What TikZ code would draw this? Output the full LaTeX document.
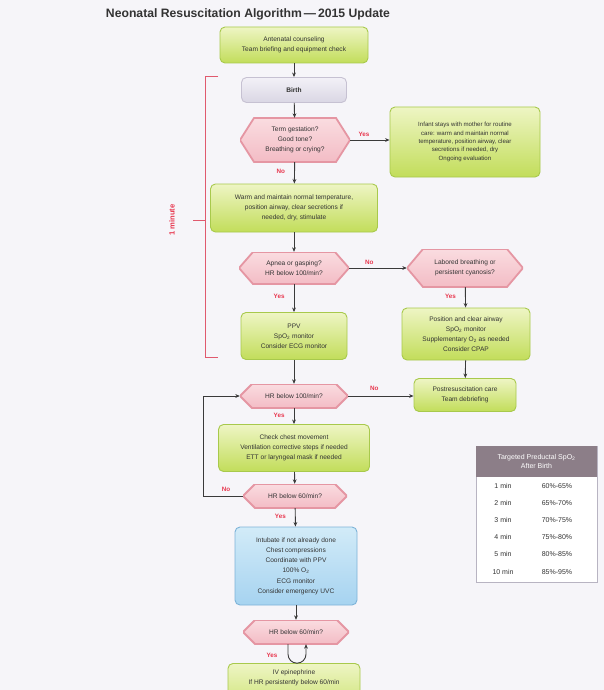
\documentclass[tikz,border=0pt]{standalone}
\usepackage{fontspec}
\setmainfont{Liberation Sans}
\usetikzlibrary{arrows.meta,calc}
\definecolor{bg}{HTML}{F6F5F9}
\definecolor{gtop}{HTML}{EEF5C4}
\definecolor{gbot}{HTML}{C2DD5A}
\definecolor{gline}{HTML}{A8C94C}
\definecolor{htop}{HTML}{FADCE0}
\definecolor{hbot}{HTML}{F3BCC5}
\definecolor{hline}{HTML}{E596A3}
\definecolor{btop}{HTML}{D2EBF8}
\definecolor{bbot}{HTML}{A6D3F0}
\definecolor{bline}{HTML}{7DB3D8}
\definecolor{ltop}{HTML}{F3F1F7}
\definecolor{lbot}{HTML}{DAD6E4}
\definecolor{lline}{HTML}{C6C1D2}
\definecolor{txt}{HTML}{333333}
\definecolor{lbl}{HTML}{E8384F}
\definecolor{brk}{HTML}{E05A6E}
\definecolor{thead}{HTML}{8C7E88}
\definecolor{arr}{HTML}{3A3A3A}
\newcommand{\bxfont}{\fontsize{6.6}{10.2}\selectfont}
\newcommand{\smfont}{\fontsize{6.1}{8.4}\selectfont}
\newcommand{\tbfont}{\fontsize{7}{9}\selectfont}
\newcommand{\lblfont}{\fontsize{6.3}{7}\selectfont\bfseries}
\tikzset{
  gbox/.style={rounded corners=5pt, draw=gline, line width=0.9pt, top color=gtop, bottom color=gbot, align=center, text=txt, font=\bxfont, inner sep=2pt},
  lbox/.style={rounded corners=5pt, draw=lline, line width=0.9pt, top color=ltop, bottom color=lbot, align=center, text=txt, font=\bxfont\bfseries},
  bbox/.style={rounded corners=5pt, draw=bline, line width=0.9pt, top color=btop, bottom color=bbot, align=center, text=txt, font=\bxfont},
  hexd/.store in=\hexd, hexd=12pt,
  hexa/.style={inner sep=1pt, align=center, text=txt, font=\bxfont, path picture={
    \path[top color=htop, bottom color=hbot, draw=hline, line width=1.8pt]
      (path picture bounding box.west)
      -- ([xshift=\hexd]path picture bounding box.north west)
      -- ([xshift=-\hexd]path picture bounding box.north east)
      -- (path picture bounding box.east)
      -- ([xshift=-\hexd]path picture bounding box.south east)
      -- ([xshift=\hexd]path picture bounding box.south west) -- cycle;}},
  conn/.style={draw=arr, line width=0.9pt, -{Stealth[length=4.5pt,width=3.8pt]}},
  plain/.style={draw=arr, line width=0.9pt},
  ylab/.style={text=lbl, font=\lblfont, inner sep=1pt},
}
\begin{document}
\begin{tikzpicture}[x=1pt,y=-1pt]
\useasboundingbox (0,0) rectangle (604,690);
\fill[bg] (0,0) rectangle (604,690);
\begin{scope}
\clip (0,0) rectangle (604,690);

\node[font=\fontsize{12.2}{14}\selectfont\bfseries, text=txt] (title) at (248,14) {Neonatal Resuscitation Algorithm\,—\,2015 Update};

\node[gbox, minimum width=148pt, minimum height=36pt] (ante) at (294,45) {Antenatal counseling\\Team briefing and equipment check};
\node[lbox, minimum width=105pt, minimum height=25pt] (birth) at (294,90) {Birth};
\node[hexa, hexd=14pt, minimum width=110pt, minimum height=44pt] (h1) at (295,140) {Term gestation?\\Good tone?\\Breathing or crying?};
\node[gbox, font=\smfont, minimum width=150pt, minimum height=70pt] (right) at (465,142) {Infant stays with mother for routine\\care: warm and maintain normal\\temperature, position airway, clear\\secretions if needed, dry\\Ongoing evaluation};
\node[gbox, minimum width=167pt, minimum height=48pt] (warm) at (294,208) {Warm and maintain normal temperature,\\position airway, clear secretions if\\needed, dry, stimulate};
\node[hexa, hexd=14pt, minimum width=110pt, minimum height=32pt] (h2) at (294,268) {Apnea or gasping?\\HR below 100/min?};
\node[hexa, hexd=16pt, minimum width=116pt, minimum height=38pt] (h3) at (465,268) {Labored breathing or\\persistent cyanosis?};
\node[gbox, minimum width=128pt, minimum height=52pt] (pos) at (466,334) {Position and clear airway\\SpO\textsubscript{2} monitor\\Supplementary O\textsubscript{2} as needed\\Consider CPAP};
\node[gbox, minimum width=106pt, minimum height=47pt] (ppv) at (294,336) {PPV\\SpO\textsubscript{2} monitor\\Consider ECG monitor};
\node[hexa, hexd=12pt, minimum width=108pt, minimum height=24pt] (h4) at (294,396) {HR below 100/min?};
\node[gbox, minimum width=102pt, minimum height=33pt] (post) at (465,395) {Postresuscitation care\\Team debriefing};
\node[gbox, minimum width=151pt, minimum height=47pt] (check) at (294,448) {Check chest movement\\Ventilation corrective steps if needed\\ETT or laryngeal mask if needed};
\node[hexa, hexd=12pt, minimum width=104pt, minimum height=24pt] (h5) at (295,496) {HR below 60/min?};
\node[bbox, minimum width=122pt, minimum height=78pt] (blue) at (296,566) {Intubate if not already done\\Chest compressions\\Coordinate with PPV\\100\% O\textsubscript{2}\\ECG monitor\\Consider emergency UVC};
\node[hexa, hexd=12pt, minimum width=106pt, minimum height=24pt] (h6) at (296,632) {HR below 60/min?};
\node[gbox, minimum width=132pt, minimum height=60pt, anchor=north] (epi) at (294,663) {};
\node[text=txt, font=\bxfont, align=center, anchor=north] (epit) at (294,666) {IV epinephrine\\If HR persistently below 60/min};

% connectors
\draw[conn] (ante) -- (birth);
\draw[conn] (birth) -- (h1);
\draw[conn] (h1.east) -- (h1.east -| right.west) node[ylab, pos=0.35, above=2pt] {Yes};
\draw[conn] (h1) -- (warm) node[ylab, pos=0.45, left=8pt] {No};
\draw[conn] (warm) -- (h2);
\draw[conn] (h2.east) -- (h2.east -| h3.west) node[ylab, pos=0.35, above=2pt] {No};
\draw[conn] (h2) -- (ppv) node[ylab, pos=0.45, left=8pt] {Yes};
\draw[conn] (h3) -- (pos) node[ylab, pos=0.45, left=8pt] {Yes};
\draw[conn] (ppv) -- (h4);
\draw[conn] (h4.east) -- (h4.east -| post.west) node[ylab, pos=0.4, above=4pt] {No};
\draw[conn] (pos) -- (post);
\draw[conn] (h4) -- (check) node[ylab, pos=0.45, left=8pt] {Yes};
\draw[conn] (check) -- (h5);
\coordinate (lb) at (203,496);
\coordinate (lt) at (203,396);
\draw[conn] (h5.west) -- (lb) -- (lt) -- (h4.west);
\node[ylab] (nol) at (226,489) {No};
\draw[conn] (h5) -- (blue) node[ylab, pos=0.45, left=8pt] {Yes};
\draw[conn] (blue) -- (h6);
\coordinate (ua) at ($(h6.south)+(-8,0)$);
\coordinate (ub) at ($(h6.south)+(10,0)$);
\draw[conn] (ua) -- ++(0,10) arc[start angle=180, end angle=360, radius=9pt] -- (ub);
\node[ylab] (yl) at (272,655) {Yes};

% one minute bracket
\draw[brk, line width=1pt] (218,77) -- (205,77) -- (205,357) -- (218,357);
\draw[brk, line width=1pt] (193,220) -- (205,220);
\node[rotate=90, text=lbl, font=\fontsize{7.6}{9}\selectfont\bfseries] (min1) at (172,220) {1 minute};

% table
\fill[white] (476,446) rectangle (597,582);
\draw[lline!80!gray, line width=0.6pt] (476,446) rectangle (597,582);
\fill[thead] (476,446) rectangle (597,477);
\node[text=white, font=\tbfont, align=center] (th) at (536.5,461.5) {Targeted Preductal SpO\textsubscript{2}\\After Birth};
\foreach \m/\p/\y in {1 min/60\%-65\%/486, 2 min/65\%-70\%/503, 3 min/70\%-75\%/520, 4 min/75\%-80\%/537, 5 min/80\%-85\%/554, 10 min/85\%-95\%/572}{
  \node[text=txt, font=\tbfont] at (503,\y) {\m};
  \node[text=txt, font=\tbfont] at (557,\y) {\p};
}
\end{scope}
\end{tikzpicture}
\end{document}
